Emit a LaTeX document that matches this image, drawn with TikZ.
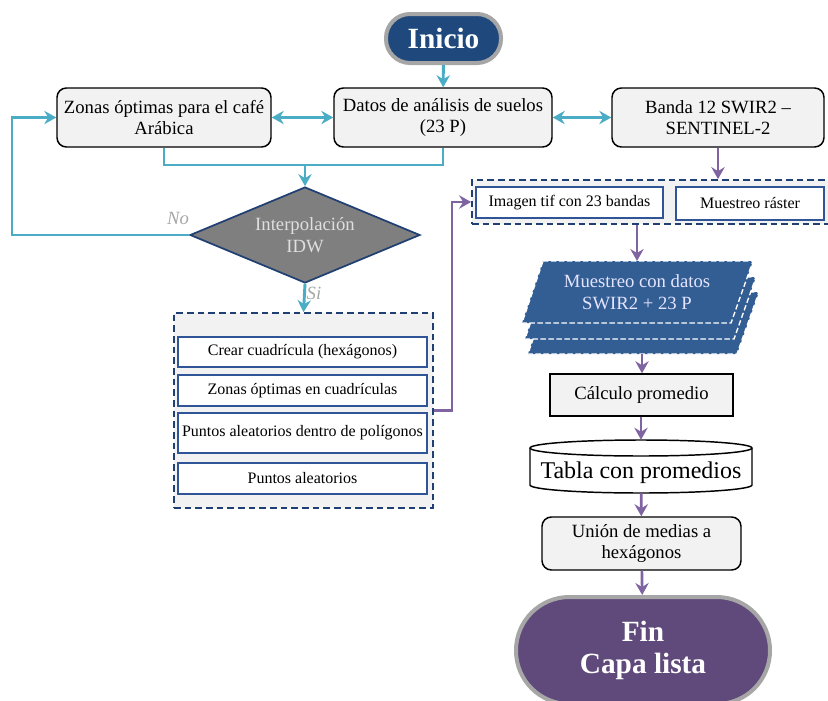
\documentclass[tikz,border=0pt]{standalone}
\usepackage{fontspec}
\setmainfont{Liberation Serif}
\usetikzlibrary{shapes.geometric,arrows.meta}
\definecolor{cyanline}{HTML}{4BACC6}
\definecolor{purpline}{HTML}{8064A2}
\definecolor{iniblue}{HTML}{1F497D}
\definecolor{finpurp}{HTML}{604A7B}
\definecolor{boxfill}{HTML}{F2F2F2}
\definecolor{grpblue}{HTML}{203F73}
\definecolor{innblue}{HTML}{2F5597}
\definecolor{stackblue}{HTML}{335E94}
\definecolor{idwgray}{HTML}{7F7F7F}
\newcommand{\boxfont}{\fontsize{14}{16}\selectfont}
\newcommand{\smallboxfont}{\fontsize{12}{14}\selectfont}
\begin{document}
\begin{tikzpicture}[x=0.75pt,y=-0.75pt]
\tikzset{>={Stealth[length=9pt,width=10pt,inset=3pt]},
  cyanarrow/.style={draw=cyanline,line width=2.2pt},
  purparrow/.style={draw=purpline,line width=2pt},
  terminal/.style={draw=gray!70,line width=3pt,text=white,font=\fontsize{22}{24}\selectfont\bfseries,align=center,inner sep=0pt},
  graybox/.style={draw=black,line width=1.1pt,fill=boxfill,rounded corners=7pt,align=center,inner sep=0pt,font=\boxfont},
  groupbox/.style={draw=grpblue,line width=1.3pt,dash pattern=on 5pt off 3pt,fill=boxfill,inner sep=0pt},
  innerbox/.style={draw=innblue,line width=1.1pt,fill=white,inner sep=0pt,font=\smallboxfont},
  stackpage/.style={fill=stackblue,draw=white,line width=1pt,dash pattern=on 4pt off 2pt},
  answer/.style={text=gray!70,font=\boxfont\itshape}}
\useasboundingbox (0,0) rectangle (828,700);

\node[terminal,fill=iniblue,minimum width=86.25pt,minimum height=36.75pt,rounded corners=18pt] (inicio) at (443.5,38.5) {Inicio};
\node[graybox,minimum width=160.5pt,minimum height=44.25pt] (zonas) at (164,117.5) {Zonas óptimas para el café\\Arábica};
\node[graybox,minimum width=163.5pt,minimum height=44.25pt] (datos) at (443,117.5) {Datos de análisis de suelos\\(23 P)};
\node[graybox,minimum width=159pt,minimum height=44.25pt] (banda) at (718,117.5) {Banda 12 SWIR2 --\\SENTINEL-2};
\node[diamond,aspect=2.4,draw=grpblue,line width=1.3pt,fill=idwgray,text=gray!25,minimum width=172.5pt,minimum height=72pt,inner sep=0pt,align=center,font=\boxfont] (idw) at (305,235) {Interpolación\\IDW};

\node[groupbox,minimum width=194.25pt,minimum height=146.25pt] (grpL) at (303.5,410.5) {};
\node[innerbox,minimum width=186.75pt,minimum height=22.5pt] (cuad) at (302.5,352) {Crear cuadrícula (hexágonos)};
\node[innerbox,minimum width=186.75pt,minimum height=23.25pt] (zcuad) at (302.5,390.5) {Zonas óptimas en cuadrículas};
\node[innerbox,minimum width=186.75pt,minimum height=30pt] (ptpol) at (302.5,433) {Puntos aleatorios dentro de polígonos};
\node[innerbox,minimum width=186.75pt,minimum height=23.25pt] (ptal) at (302.5,478.5) {Puntos aleatorios};

\node[groupbox,minimum width=267.75pt,minimum height=33pt] (grpR) at (650.5,202) {};
\node[innerbox,minimum width=140.25pt,minimum height=23.25pt] (tif) at (569.5,202.5) {Imagen tif con 23 bandas};
\node[innerbox,minimum width=111pt,minimum height=24.75pt] (raster) at (750,203.5) {Muestreo ráster};

\foreach \dx/\dy in {6/31,3/16,0/0}
  \draw[stackpage,shift={(\dx,\dy)}] (543,261) -- (753,261) -- (731,323) -- (522,323) -- cycle;
\node[text=blue!10,align=center,font=\boxfont,minimum width=150pt,minimum height=46pt,inner sep=0pt] (muestreo) at (637,292) {Muestreo con datos\\SWIR2 + 23 P};
\coordinate (stkb) at (642,354);

\node[draw=black,line width=1.1pt,fill=boxfill,minimum width=137.25pt,minimum height=31.5pt,inner sep=0pt,font=\boxfont] (calc) at (641.5,395) {Cálculo promedio};
\draw[line width=1.1pt,fill=white] (530,448) -- (530,485) arc[start angle=180,end angle=0,x radius=111,y radius=8] -- (752,448) arc[start angle=0,end angle=-180,x radius=111,y radius=8] -- cycle;
\draw[line width=1.1pt] (530,448) arc[start angle=180,end angle=0,x radius=111,y radius=8];
\node[minimum width=166.5pt,minimum height=39.75pt,inner sep=0pt] (tabla) at (641,466.5) {};
\node[font=\fontsize{18}{20}\selectfont,inner sep=0pt] (tablatxt) at (641,473) {Tabla con promedios};
\node[graybox,minimum width=149.25pt,minimum height=39.75pt] (union) at (641.5,543.5) {Unión de medias a\\hexágonos};
\node[terminal,fill=finpurp,minimum width=190.5pt,minimum height=80.25pt,rounded corners=40pt] (fin) at (643,650.5) {Fin\\Capa lista};

\coordinate (jn) at (305,165);
\coordinate (lp) at (12,235);
\coordinate (pp) at (452,410.5);
\draw[cyanarrow,->] (inicio) -- (datos);
\draw[cyanarrow,<->] (zonas) -- (datos);
\draw[cyanarrow,<->] (datos) -- (banda);
\draw[cyanarrow] (zonas.south) |- (jn) -| (datos.south);
\draw[cyanarrow,->] (jn) -- (idw.north);
\draw[cyanarrow,->] (idw.west) -- (lp) |- (zonas.west);
\draw[cyanarrow,->] (idw.south) -- (grpL.north);
\node[answer] (lblno) at (178,218) {No};
\node[answer] (lblsi) at (314,293) {Si};

\draw[purparrow,->] (grpL.east) -- (pp) |- (grpR.west);
\draw[purparrow,->] (banda.south) -- (banda.south |- grpR.north);
\draw[purparrow,->] (muestreo.north |- grpR.south) -- (637,261);
\draw[purparrow,->] (stkb) -- (calc.north -| stkb);
\draw[purparrow,->] (calc.south -| tabla.north) -- (tabla.north);
\draw[purparrow,->] (tabla) -- (union);
\draw[purparrow,->] (union) -- (fin);
\end{tikzpicture}
\end{document}
